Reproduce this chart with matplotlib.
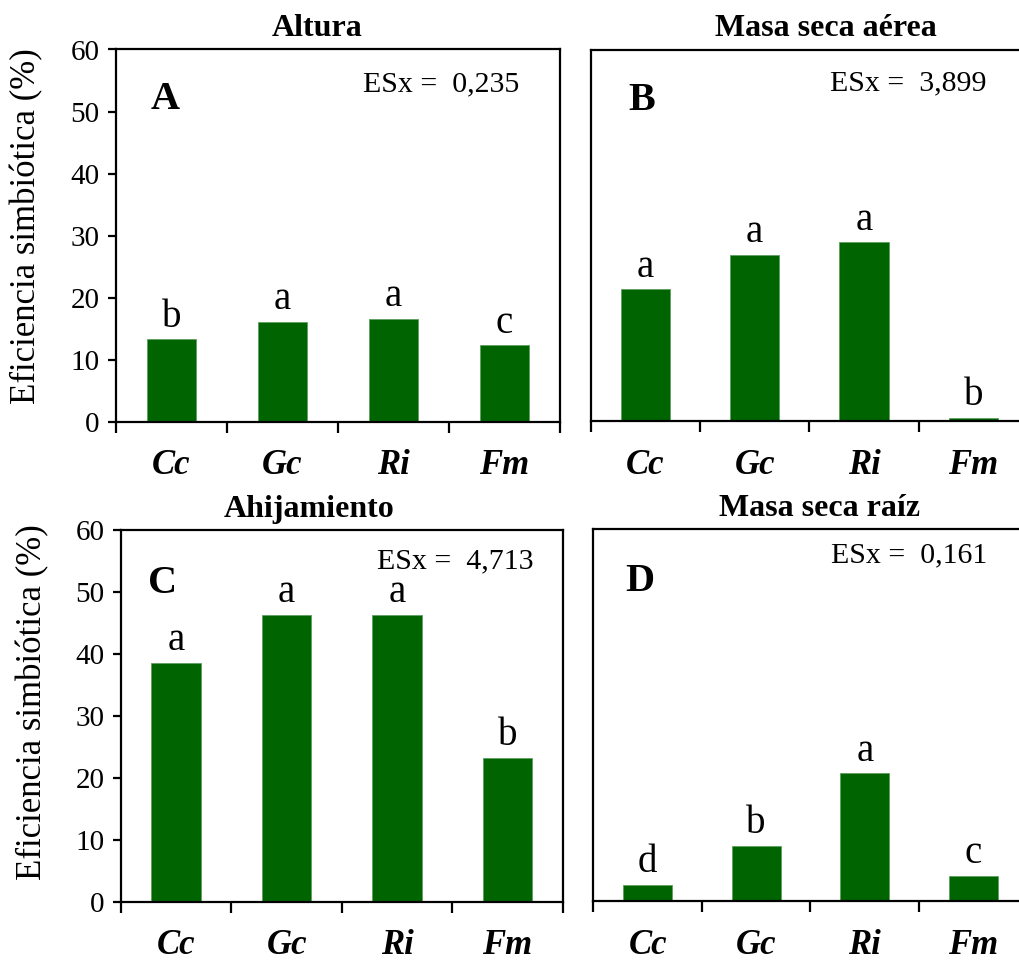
import matplotlib
matplotlib.use('Agg')
import matplotlib.pyplot as plt
import numpy as np

plt.rcParams['font.family'] = ['Liberation Serif', 'DejaVu Serif']

categories = ['Cc', 'Gc', 'Ri', 'Fm']
titles = ['Altura', 'Masa seca aérea', 'Ahijamiento', 'Masa seca raíz']
panel_letters = ['A', 'B', 'C', 'D']
esx_labels = ['ESx =  0,235', 'ESx =  3,899', 'ESx =  4,713', 'ESx =  0,161']

altura = [13.3, 16.1, 16.6, 12.3]
masa_aerea = [21.3, 26.9, 28.9, 0.5]
ahijamiento = [38.6, 46.3, 46.3, 23.2]
masa_raiz = [2.6, 8.9, 20.6, 4.1]

sig_altura = ['b', 'a', 'a', 'c']
sig_aerea = ['a', 'a', 'a', 'b']
sig_ahija = ['a', 'a', 'a', 'b']
sig_raiz = ['d', 'b', 'a', 'c']

y_ticks = [0, 10, 20, 30, 40, 50, 60]
ylabel = 'Eficiencia simbiótica (%)'

W, H = 1020, 963
bar_color = '#006400'

# axes boxes in pixels: left, top, right, bottom
boxes = [(116, 49.5, 560, 421.7),
         (590.7, 50, 1028, 421),
         (121, 530, 562.7, 901.7),
         (593.3, 529, 1027.7, 901)]
# text placements in axes coords
title_x = [0.453, 0.537, 0.427, 0.52]
letter_xy = [(0.077, 0.865), (0.086, 0.865), (0.062, 0.857), (0.073, 0.858)]
esx_xy = [(0.909, 0.905), (0.906, 0.91), (0.935, 0.915), (0.906, 0.93)]

fig = plt.figure(figsize=(W / 100, H / 100), dpi=100)

data = [altura, masa_aerea, ahijamiento, masa_raiz]
sigs = [sig_altura, sig_aerea, sig_ahija, sig_raiz]

for i in range(4):
    l, t, r, b = boxes[i]
    ax = fig.add_axes([l / W, (H - b) / H, (r - l) / W, (b - t) / H])
    x = np.arange(len(categories))
    ax.bar(x, data[i], width=0.45, color=bar_color, edgecolor='#5f9f5f', linewidth=0.6, zorder=2)
    for xi, v, s in zip(x, data[i], sigs[i]):
        ax.annotate(s, (xi, v), xytext=(0, 9), textcoords='offset points',
                    ha='center', va='baseline', fontsize=28)
    ax.set_xlim(-0.5, 3.5)
    ax.set_ylim(0, 60)
    for sp in ax.spines.values():
        sp.set_linewidth(1.6)
    ax.set_xticks([-0.5, 0.5, 1.5, 2.5, 3.5])
    ax.set_xticklabels([])
    ax.set_xticks(x, minor=True)
    ax.set_xticklabels(categories, minor=True, fontsize=25, fontweight='bold', style='italic')
    ax.tick_params(axis='x', which='major', direction='out', length=8, width=1.6)
    ax.tick_params(axis='x', which='minor', length=0, pad=20)
    if i % 2 == 0:
        ax.set_yticks(y_ticks)
        ax.tick_params(axis='y', direction='out', length=6, width=1.6, labelsize=21, pad=6)
        yl = 0.525 if i == 0 else 0.537
        ax.text(-0.2, yl, ylabel, rotation=90, ha='center', va='center',
                fontsize=25, transform=ax.transAxes)
    else:
        ax.set_yticks([])
    ax.text(title_x[i], 1 + 13.5 / (b - t), titles[i], ha='center', va='baseline',
            fontsize=23, fontweight='bold', transform=ax.transAxes)
    ax.text(letter_xy[i][0], letter_xy[i][1], panel_letters[i], ha='left', va='center',
            fontsize=29, fontweight='bold', transform=ax.transAxes)
    ax.text(esx_xy[i][0], esx_xy[i][1], esx_labels[i], ha='right', va='center',
            fontsize=21.5, transform=ax.transAxes)

fig.savefig('out.png', dpi=100)
